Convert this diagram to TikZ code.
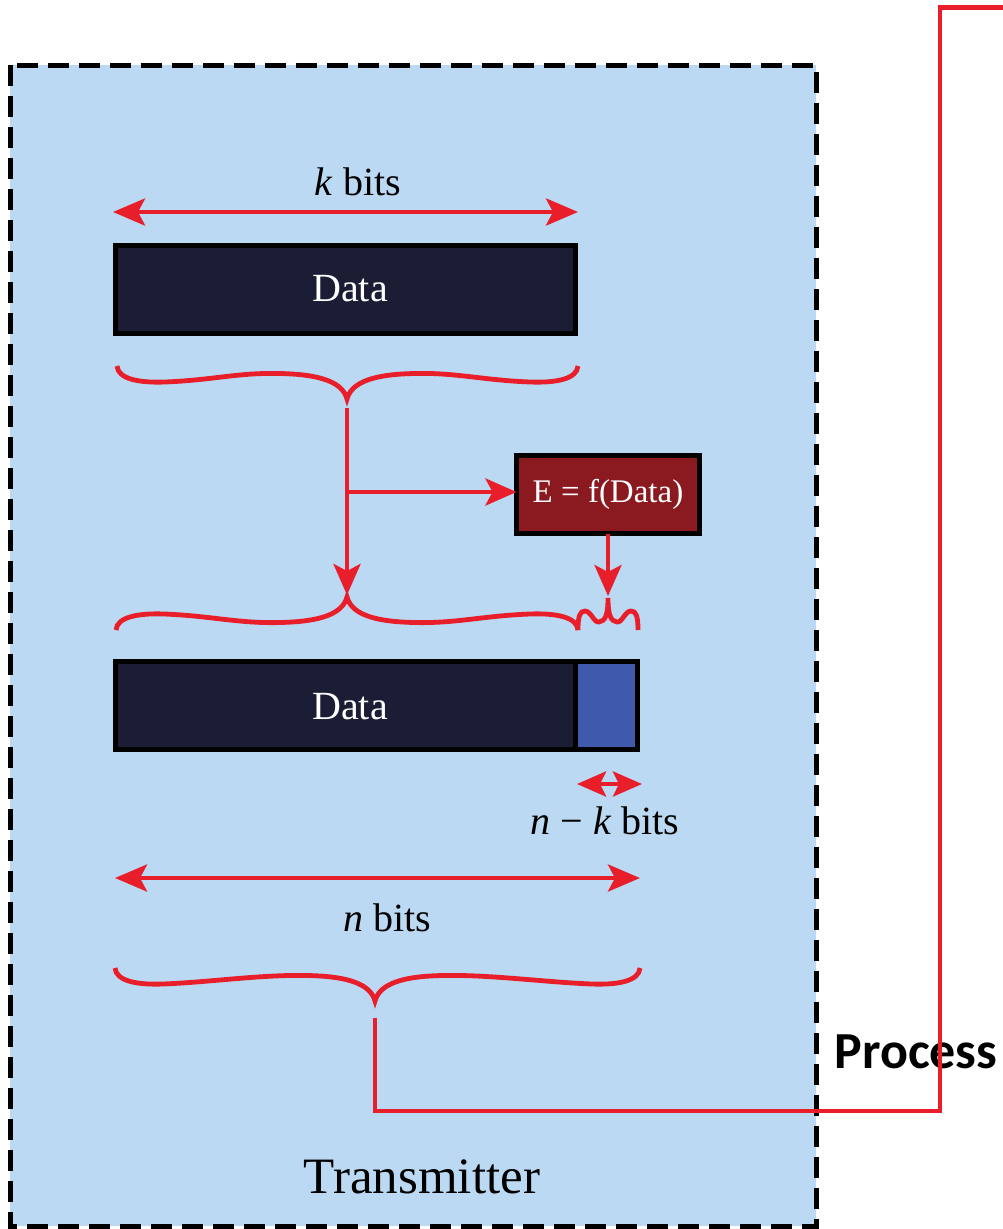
\documentclass[tikz,border=0pt]{standalone}
\usepackage{fontspec}
\setmainfont{Liberation Serif}
\newfontfamily\timesface{Liberation Serif}
\newfontfamily\labelsans{Carlito}
\usetikzlibrary{arrows.meta}

\definecolor{txbg}{RGB}{187,217,242}
\definecolor{wire}{RGB}{232,30,42}
\definecolor{payload}{RGB}{26,29,51}
\definecolor{encbox}{RGB}{139,26,32}
\definecolor{paritybox}{RGB}{63,90,173}

\tikzset{
  wireline/.style={draw=wire, line width=4.5pt},
  wirearrow/.style={wireline, -{Stealth[length=31pt,width=27pt,inset=7pt]}},
  span/.style={wireline, {Stealth[length=32pt,width=27pt,inset=7pt]}-{Stealth[length=32pt,width=27pt,inset=7pt]}},
  shortspan/.style={wireline, {Stealth[length=29pt,width=25pt,inset=6pt]}-{Stealth[length=29pt,width=25pt,inset=6pt]}},
  bracestroke/.style={draw=wire, line width=4.8pt},
  block/.style={draw=black, line width=5pt, inner sep=0pt, outer sep=0pt},
  boxtext/.style={inner sep=0pt, text=white, font=\timesface\fontsize{40}{48}\selectfont},
  dimtext/.style={inner sep=0pt, font=\timesface\fontsize{40}{48}\selectfont},
}

% curly brace drawn as a smooth stroke; #5 = 1 puts the tip below, -1 above
\newcommand{\wavebrace}[5]{%
  \draw[bracestroke] (#1,#4)
    .. controls ({#1+1},{#4+#5*13}) and ({#1+22},{#4+#5*17}) .. ({#1+48},{#4+#5*16})
    .. controls ({#1+100},{#4+#5*14}) and ({#3-105},{#4+#5*5}) .. ({#3-55},{#4+#5*8})
    .. controls ({#3-22},{#4+#5*10}) and ({#3-4},{#4+#5*18}) .. (#3,{#4+#5*33})
    .. controls ({#3+4},{#4+#5*18}) and ({#3+22},{#4+#5*10}) .. ({#3+55},{#4+#5*8})
    .. controls ({#3+105},{#4+#5*5}) and ({#2-100},{#4+#5*14}) .. ({#2-48},{#4+#5*16})
    .. controls ({#2-22},{#4+#5*17}) and ({#2-1},{#4+#5*13}) .. (#2,#4);}

\begin{document}
\begin{tikzpicture}[x=1pt, y=-1pt]
\useasboundingbox (0,0) rectangle (1003,1229);

% transmitter frame
\draw[fill=txbg, draw=black, line width=5pt, dash pattern=on 21pt off 10pt]
  (10,65) rectangle (816,1226);

% k-bit payload
\draw[span] (113,212) coordinate (kleft) -- (578,212) coordinate (kright);
\node[dimtext] (klabel) at (358,182) {\textit{k} bits};
\node[block, fill=payload, minimum width=460pt, minimum height=88pt]
  (datatop) at (345.5,289.5) {};
\node[boxtext] (datatoptext) at (350,289) {Data};

% brace collecting the payload
\wavebrace{117}{578}{347}{366}{1}
\coordinate (payloadtap) at (347,408);
\coordinate (splitpt) at (347,492);
\coordinate (payloadslot) at (347,595);

% encoder
\node[block, fill=encbox, minimum width=183pt, minimum height=78pt]
  (ebox) at (608,494.5) {};
\node[boxtext, font=\timesface\fontsize{33}{40}\selectfont] (eboxtext) at (608,494) {E = f(Data)};

\draw[wirearrow] (payloadtap) -- (payloadslot);
\draw[wirearrow] (splitpt) -- (splitpt -| ebox.west);

% braces over the codeword
\wavebrace{116}{578}{347}{630}{-1}
\draw[bracestroke] (578,630)
  .. controls (578,616) and (580,611) .. (585,611)
  .. controls (591,611) and (594,623) .. (599,622)
  .. controls (605,621) and (608,616) .. (608,598)
  .. controls (608,616) and (611,621) .. (617,622)
  .. controls (622,623) and (625,611) .. (631,611)
  .. controls (636,611) and (638,616) .. (638,630);
\coordinate (paritytip) at (608,596);
\draw[wirearrow] (ebox.south) -- (paritytip);

% n-bit codeword
\node[block, fill=payload, minimum width=460pt, minimum height=88pt]
  (databot) at (345.5,705.5) {};
\node[boxtext] (databottext) at (350,707) {Data};
\node[block, fill=paritybox, minimum width=62pt, minimum height=88pt, anchor=west]
  (parity) at (databot.east) {};

\draw[shortspan] (577,784) coordinate (nkleft) -- (642,784) coordinate (nkright);
\node[dimtext] (nklabel) at (605,821) {\textit{n} − \textit{k} bits};

\draw[span] (115,878) coordinate (nleft) -- (640,878) coordinate (nright);
\node[dimtext] (nlabel) at (387,918) {\textit{n} bits};

\wavebrace{115}{640}{375}{968}{1}

\node[inner sep=0pt, font=\timesface\fontsize{51}{60}\selectfont] (txname) at (422,1177) {Transmitter};

% link to the processing stage
\node[inner sep=0pt, font=\labelsans\bfseries\fontsize{52}{60}\selectfont] (proc) at (916,1052) {Process};
\coordinate (codeout) at (375,1018);
\coordinate (turnA) at (940,1111);
\coordinate (turnB) at (940,7.5);
\coordinate (farend) at (1003,7.5);
\draw[wireline] (codeout) |- (turnA) -- (turnB) -- (farend);
\end{tikzpicture}
\end{document}
